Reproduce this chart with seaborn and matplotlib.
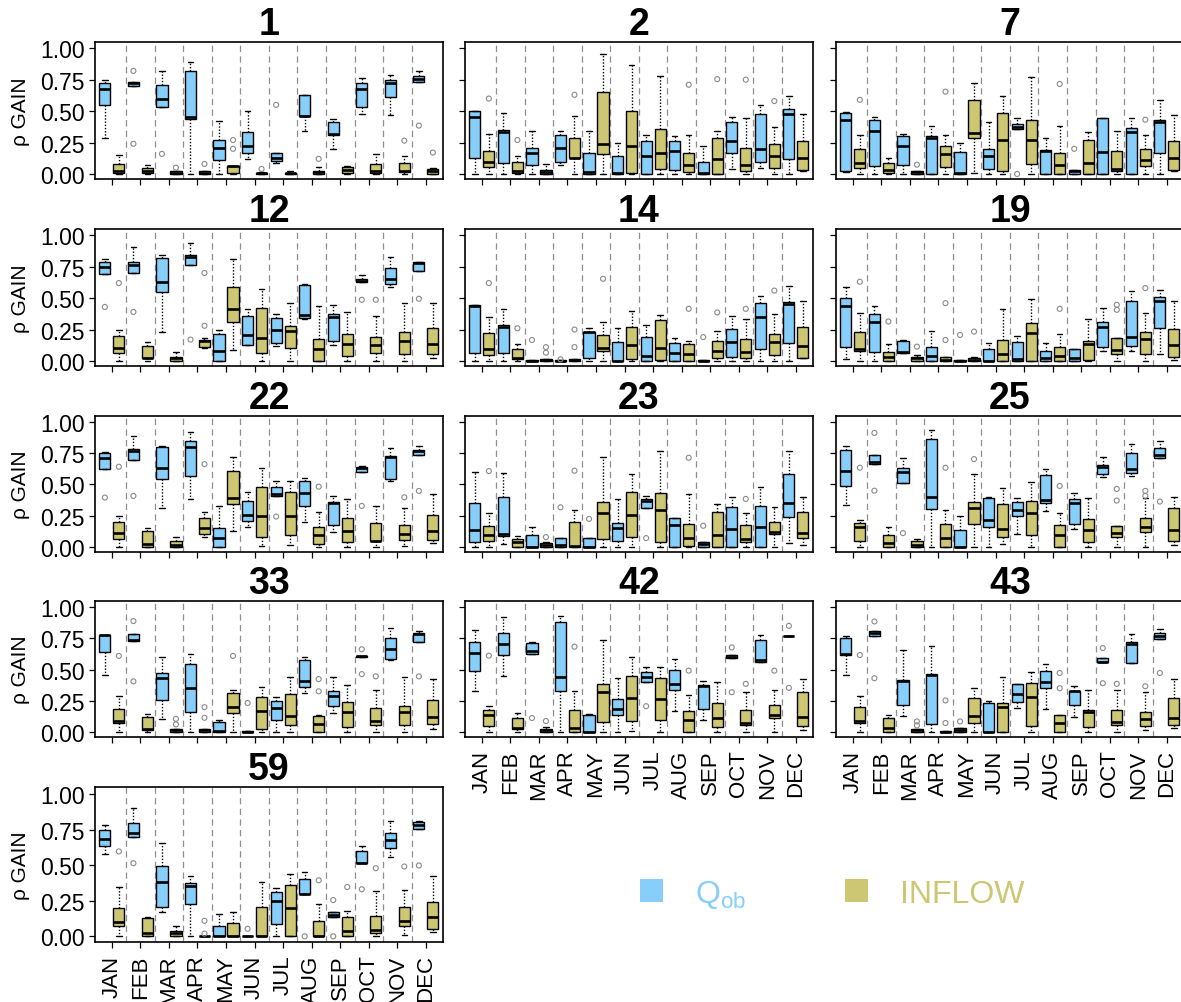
import numpy as np
import pandas as pd
import matplotlib
matplotlib.use("Agg")
import matplotlib.pyplot as plt
import seaborn as sns
from matplotlib.patches import Patch

MONTHS = ["JAN", "FEB", "MAR", "APR", "MAY", "JUN",
          "JUL", "AUG", "SEP", "OCT", "NOV", "DEC"]
SERIES = ["Qob", "INFLOW"]
LEGEND_LABELS = ["$\\mathregular{Q_{ob}}$", "INFLOW"]
Y_TICKS = [0.0, 0.25, 0.5, 0.75, 1.0]
Y_LABEL = "\u03c1 GAIN"

# five-number summaries per month: [whisker low, Q1, median, Q3, whisker high]
QOB_1 = [[0.29, 0.55, 0.68, 0.72, 0.75], [0.70, 0.70, 0.72, 0.73, 0.73], [0.535, 0.535, 0.60, 0.71, 0.82],
         [0.0, 0.44, 0.45, 0.82, 0.89], [0.0, 0.11, 0.21, 0.27, 0.42], [0.12, 0.17, 0.22, 0.33, 0.50],
         [0.09, 0.10, 0.125, 0.17, 0.17], [0.34, 0.46, 0.46, 0.63, 0.63], [0.20, 0.31, 0.32, 0.41, 0.44],
         [0.48, 0.53, 0.68, 0.72, 0.76], [0.47, 0.61, 0.72, 0.75, 0.79], [0.73, 0.73, 0.755, 0.78, 0.82]]
INF_1 = [[0.0, 0.005, 0.02, 0.08, 0.15], [0.0, 0.005, 0.027, 0.045, 0.07], [0.0, 0.0, 0.01, 0.02, 0.02],
         [0.0, 0.0, 0.01, 0.02, 0.02], [0.0, 0.008, 0.06, 0.066, 0.066], [0.0, 0.0, 0.005, 0.01, 0.012],
         [0.0, 0.0, 0.005, 0.01, 0.02], [0.0, 0.0, 0.013, 0.027, 0.055], [0.0, 0.008, 0.032, 0.053, 0.06],
         [0.0, 0.008, 0.02, 0.08, 0.16], [0.0, 0.013, 0.027, 0.085, 0.14], [0.0, 0.003, 0.02, 0.04, 0.045]]
QOB_OUT_1 = [("FEB", 0.82), ("FEB", 0.24), ("MAR", 0.16), ("JUL", 0.55), ("DEC", 0.385)]
INF_OUT_1 = [("MAR", 0.05), ("APR", 0.08), ("MAY", 0.27), ("MAY", 0.20), ("JUN", 0.04),
             ("AUG", 0.12), ("NOV", 0.265), ("DEC", 0.17)]

QOB_2 = [[0.0, 0.13, 0.45, 0.50, 0.50], [0.0, 0.085, 0.33, 0.35, 0.485], [0.0, 0.07, 0.17, 0.21, 0.34],
         [0.074, 0.093, 0.21, 0.31, 0.345], [0.0, 0.003, 0.013, 0.167, 0.34], [0.0, 0.0, 0.005, 0.146, 0.245],
         [0.0, 0.0, 0.146, 0.26, 0.31], [0.0, 0.03, 0.186, 0.265, 0.30], [0.0, 0.0, 0.005, 0.098, 0.225],
         [0.04, 0.17, 0.265, 0.416, 0.45], [0.048, 0.093, 0.195, 0.48, 0.545], [0.0, 0.12, 0.48, 0.52, 0.62]]
INF_2 = [[0.0, 0.053, 0.093, 0.185, 0.315], [0.0, 0.005, 0.027, 0.093, 0.14], [0.0, 0.0, 0.016, 0.03, 0.077],
         [0.0, 0.125, 0.127, 0.285, 0.46], [0.0, 0.16, 0.24, 0.65, 0.955], [0.0, 0.005, 0.22, 0.50, 0.87],
         [0.0, 0.04, 0.17, 0.36, 0.78], [0.0, 0.013, 0.072, 0.165, 0.31], [0.0, 0.0, 0.12, 0.284, 0.34],
         [0.0, 0.027, 0.074, 0.21, 0.445], [0.0, 0.048, 0.146, 0.24, 0.37], [0.02, 0.035, 0.127, 0.265, 0.48]]
QOB_OUT_2 = []
INF_OUT_2 = [("JAN", 0.60), ("FEB", 0.27), ("APR", 0.63), ("AUG", 0.71), ("SEP", 0.755),
             ("OCT", 0.75), ("NOV", 0.58)]

QOB_7 = [[0.013, 0.027, 0.43, 0.485, 0.49], [0.0, 0.066, 0.34, 0.43, 0.45], [0.0, 0.072, 0.22, 0.30, 0.32],
         [0.0, 0.0, 0.284, 0.305, 0.385], [0.0, 0.0, 0.005, 0.172, 0.25], [0.0, 0.04, 0.146, 0.20, 0.416],
         [0.358, 0.358, 0.377, 0.395, 0.443], [0.0, 0.0, 0.18, 0.194, 0.29], [0.0, 0.0, 0.027, 0.034, 0.034],
         [0.0, 0.0, 0.172, 0.446, 0.446], [0.0, 0.0, 0.33, 0.366, 0.446], [0.0, 0.167, 0.41, 0.43, 0.59]]
INF_7 = [[0.0, 0.048, 0.088, 0.20, 0.31], [0.0, 0.008, 0.032, 0.085, 0.13], [0.0, 0.003, 0.013, 0.027, 0.027],
         [0.0, 0.058, 0.156, 0.225, 0.31], [0.005, 0.284, 0.326, 0.59, 0.72], [0.0, 0.02, 0.27, 0.485, 0.62],
         [0.0, 0.077, 0.273, 0.43, 0.77], [0.0, 0.0, 0.072, 0.167, 0.385], [0.0, 0.0, 0.088, 0.27, 0.33],
         [0.0, 0.027, 0.04, 0.18, 0.345], [0.0, 0.06, 0.114, 0.20, 0.31], [0.024, 0.032, 0.127, 0.265, 0.47]]
QOB_OUT_7 = [("JUL", 0.0), ("SEP", 0.2)]
INF_OUT_7 = [("JAN", 0.59), ("MAR", 0.074), ("APR", 0.655), ("AUG", 0.716), ("NOV", 0.432)]

QOB_12 = [[0.69, 0.69, 0.75, 0.79, 0.81], [0.70, 0.70, 0.76, 0.79, 0.91], [0.23, 0.55, 0.63, 0.82, 0.84],
          [0.76, 0.76, 0.83, 0.84, 0.94], [0.0, 0.0, 0.08, 0.215, 0.25], [0.13, 0.13, 0.21, 0.355, 0.41],
          [0.12, 0.14, 0.25, 0.345, 0.37], [0.33, 0.34, 0.367, 0.605, 0.61], [0.128, 0.16, 0.35, 0.372, 0.447],
          [0.63, 0.63, 0.64, 0.65, 0.686], [0.59, 0.61, 0.654, 0.74, 0.824], [0.713, 0.713, 0.78, 0.787, 0.79]]
INF_12 = [[0.0, 0.06, 0.10, 0.20, 0.25], [0.0, 0.02, 0.02, 0.12, 0.15], [0.0, 0.0, 0.02, 0.035, 0.07],
          [0.10, 0.11, 0.155, 0.17, 0.18], [0.09, 0.31, 0.41, 0.59, 0.81], [0.0, 0.06, 0.18, 0.42, 0.57],
          [0.0, 0.10, 0.235, 0.28, 0.465], [0.0, 0.0, 0.093, 0.173, 0.435], [0.0, 0.043, 0.133, 0.215, 0.39],
          [0.0, 0.066, 0.128, 0.194, 0.354], [0.0, 0.053, 0.16, 0.229, 0.465], [0.027, 0.053, 0.133, 0.266, 0.46]]
QOB_OUT_12 = [("JAN", 0.43), ("FEB", 0.39), ("APR", 0.17), ("OCT", 0.487), ("DEC", 0.495)]
INF_OUT_12 = [("JAN", 0.62), ("APR", 0.70), ("APR", 0.28), ("OCT", 0.487)]

QOB_14 = [[0.0, 0.066, 0.44, 0.445, 0.445], [0.0, 0.06, 0.274, 0.29, 0.41], [0.0, 0.0, 0.003, 0.005, 0.005],
          [0.0, 0.0, 0.003, 0.005, 0.005], [0.0, 0.02, 0.23, 0.234, 0.266], [0.0, 0.0, 0.003, 0.154, 0.26],
          [0.0, 0.0, 0.043, 0.194, 0.287], [0.0, 0.0, 0.061, 0.146, 0.186], [0.0, 0.0, 0.003, 0.005, 0.005],
          [0.0, 0.03, 0.154, 0.255, 0.354], [0.0, 0.093, 0.346, 0.46, 0.52], [0.0, 0.141, 0.452, 0.473, 0.60]]
INF_14 = [[0.0, 0.048, 0.096, 0.22, 0.35], [0.0, 0.013, 0.02, 0.093, 0.133], [0.0, 0.003, 0.008, 0.016, 0.016],
          [0.0, 0.003, 0.008, 0.012, 0.012], [0.0, 0.082, 0.10, 0.207, 0.314], [0.0, 0.016, 0.128, 0.27, 0.40],
          [0.0, 0.008, 0.106, 0.327, 0.362], [0.0, 0.0, 0.053, 0.136, 0.162], [0.0, 0.027, 0.082, 0.162, 0.242],
          [0.0, 0.02, 0.07, 0.176, 0.332], [0.0, 0.048, 0.149, 0.213, 0.372], [0.027, 0.027, 0.122, 0.274, 0.48]]
QOB_OUT_14 = [("MAR", 0.167), ("APR", 0.013), ("SEP", 0.19)]
INF_OUT_14 = [("JAN", 0.62), ("FEB", 0.26), ("MAR", 0.11), ("MAR", 0.066), ("APR", 0.25), ("APR", 0.11),
              ("MAY", 0.654), ("AUG", 0.415), ("SEP", 0.386), ("OCT", 0.415), ("NOV", 0.56)]

QOB_19 = [[0.016, 0.11, 0.44, 0.50, 0.585], [0.0, 0.07, 0.31, 0.372, 0.44], [0.061, 0.061, 0.074, 0.162, 0.167],
          [0.0, 0.0, 0.043, 0.11, 0.242], [0.0, 0.0, 0.003, 0.005, 0.005], [0.0, 0.0, 0.003, 0.093, 0.141],
          [0.0, 0.003, 0.016, 0.154, 0.20], [0.0, 0.0, 0.02, 0.082, 0.141], [0.0, 0.0, 0.02, 0.093, 0.096],
          [0.08, 0.114, 0.274, 0.314, 0.425], [0.082, 0.12, 0.194, 0.48, 0.553], [0.053, 0.26, 0.48, 0.508, 0.566]]
INF_19 = [[0.0, 0.082, 0.096, 0.234, 0.38], [0.0, 0.0, 0.03, 0.074, 0.136], [0.0, 0.003, 0.02, 0.035, 0.048],
          [0.0, 0.003, 0.01, 0.03, 0.03], [0.0, 0.003, 0.01, 0.02, 0.035], [0.0, 0.0, 0.053, 0.167, 0.415],
          [0.0, 0.0, 0.226, 0.306, 0.495], [0.0, 0.0, 0.043, 0.11, 0.213], [0.0, 0.008, 0.136, 0.16, 0.332],
          [0.0, 0.053, 0.088, 0.18, 0.18], [0.0, 0.053, 0.173, 0.229, 0.38], [0.008, 0.03, 0.128, 0.253, 0.48]]
QOB_OUT_19 = [("MAY", 0.207)]
INF_OUT_19 = [("JAN", 0.63), ("FEB", 0.314), ("MAR", 0.114), ("APR", 0.46), ("APR", 0.167), ("MAY", 0.234),
              ("AUG", 0.415), ("OCT", 0.447), ("OCT", 0.407), ("NOV", 0.58)]

QOB_22 = [[0.622, 0.622, 0.713, 0.755, 0.76], [0.694, 0.694, 0.766, 0.782, 0.886], [0.314, 0.54, 0.633, 0.80, 0.806],
          [0.38, 0.569, 0.80, 0.846, 0.92], [0.0, 0.0, 0.069, 0.149, 0.327], [0.154, 0.21, 0.255, 0.367, 0.441],
          [0.41, 0.41, 0.423, 0.481, 0.529], [0.202, 0.33, 0.428, 0.529, 0.553], [0.114, 0.176, 0.354, 0.356, 0.407],
          [0.596, 0.596, 0.633, 0.641, 0.649], [0.527, 0.54, 0.72, 0.726, 0.793], [0.739, 0.739, 0.766, 0.779, 0.806]]
INF_22 = [[0.0, 0.061, 0.109, 0.202, 0.247], [0.0, 0.0, 0.024, 0.122, 0.149], [0.0, 0.0, 0.016, 0.048, 0.074],
          [0.077, 0.104, 0.149, 0.234, 0.277], [0.128, 0.343, 0.388, 0.609, 0.72], [0.008, 0.077, 0.25, 0.476, 0.628],
          [0.016, 0.096, 0.247, 0.441, 0.529], [0.0, 0.021, 0.09, 0.157, 0.282], [0.0, 0.035, 0.122, 0.234, 0.38],
          [0.0, 0.043, 0.048, 0.189, 0.327], [0.008, 0.05, 0.104, 0.176, 0.309], [0.029, 0.056, 0.128, 0.255, 0.42]]
QOB_OUT_22 = [("JAN", 0.394), ("FEB", 0.407), ("JUL", 0.242), ("OCT", 0.327), ("DEC", 0.447)]
INF_OUT_22 = [("JAN", 0.641), ("APR", 0.662), ("AUG", 0.481), ("NOV", 0.396)]

QOB_23 = [[0.0, 0.037, 0.136, 0.354, 0.596], [0.024, 0.088, 0.101, 0.402, 0.593], [0.0, 0.0, 0.0, 0.096, 0.157],
          [0.0, 0.0, 0.016, 0.069, 0.069], [0.0, 0.0, 0.0, 0.069, 0.069], [0.0, 0.043, 0.149, 0.189, 0.38],
          [0.314, 0.314, 0.367, 0.383, 0.41], [0.0, 0.0, 0.176, 0.229, 0.229], [0.0, 0.0, 0.021, 0.037, 0.037],
          [0.0, 0.0, 0.141, 0.316, 0.402], [0.0, 0.0, 0.157, 0.33, 0.481], [0.027, 0.242, 0.348, 0.582, 0.766]]
INF_23 = [[0.0, 0.048, 0.09, 0.162, 0.274], [0.0, 0.0, 0.035, 0.061, 0.082], [0.0, 0.0, 0.016, 0.029, 0.037],
          [0.0, 0.0, 0.003, 0.197, 0.295], [0.0, 0.064, 0.269, 0.356, 0.72], [0.0, 0.077, 0.255, 0.436, 0.58],
          [0.0, 0.037, 0.295, 0.428, 0.769], [0.0, 0.003, 0.069, 0.184, 0.42], [0.0, 0.0, 0.09, 0.277, 0.34],
          [0.0, 0.035, 0.061, 0.173, 0.269], [0.0, 0.101, 0.114, 0.202, 0.316], [0.011, 0.069, 0.109, 0.282, 0.396]]
QOB_OUT_23 = [("APR", 0.316), ("MAY", 0.223), ("JUL", 0.069), ("SEP", 0.168)]
INF_OUT_23 = [("JAN", 0.606), ("MAR", 0.077), ("APR", 0.609), ("AUG", 0.713), ("OCT", 0.383)]

QOB_25 = [[0.335, 0.489, 0.609, 0.779, 0.806], [0.662, 0.662, 0.681, 0.734, 0.734], [0.508, 0.508, 0.601, 0.633, 0.707],
          [0.0, 0.301, 0.396, 0.867, 0.939], [0.0, 0.0, 0.0, 0.136, 0.25], [0.0, 0.157, 0.215, 0.388, 0.402],
          [0.104, 0.247, 0.295, 0.356, 0.388], [0.29, 0.348, 0.375, 0.574, 0.62], [0.144, 0.184, 0.348, 0.383, 0.434],
          [0.556, 0.582, 0.641, 0.654, 0.715], [0.566, 0.588, 0.62, 0.755, 0.827], [0.707, 0.707, 0.734, 0.795, 0.848]]
INF_25 = [[0.0, 0.043, 0.157, 0.194, 0.215], [0.0, 0.0, 0.029, 0.096, 0.157], [0.0, 0.0, 0.016, 0.043, 0.061],
          [0.0, 0.0, 0.069, 0.184, 0.295], [0.0, 0.184, 0.314, 0.356, 0.58], [0.021, 0.077, 0.141, 0.34, 0.473],
          [0.0, 0.09, 0.274, 0.37, 0.521], [0.0, 0.0, 0.09, 0.176, 0.269], [0.0, 0.037, 0.13, 0.221, 0.394],
          [0.0, 0.077, 0.109, 0.162, 0.162], [0.0, 0.117, 0.157, 0.234, 0.388], [0.011, 0.043, 0.13, 0.309, 0.402]]
QOB_OUT_25 = [("FEB", 0.912), ("FEB", 0.449), ("MAR", 0.109), ("DEC", 0.362)]
INF_OUT_25 = [("JAN", 0.633), ("APR", 0.633), ("MAY", 0.702), ("AUG", 0.487), ("OCT", 0.463), ("OCT", 0.37),
              ("NOV", 0.447), ("NOV", 0.407)]

QOB_33 = [[0.456, 0.645, 0.775, 0.777, 0.78], [0.73, 0.73, 0.735, 0.788, 0.788], [0.106, 0.257, 0.43, 0.472, 0.602],
          [0.0, 0.159, 0.353, 0.544, 0.623], [0.0, 0.0, 0.005, 0.08, 0.10], [0.0, 0.0, 0.003, 0.005, 0.005],
          [0.0, 0.10, 0.191, 0.252, 0.284], [0.313, 0.363, 0.406, 0.576, 0.605], [0.154, 0.207, 0.286, 0.326, 0.443],
          [0.602, 0.602, 0.607, 0.61, 0.61], [0.576, 0.589, 0.663, 0.751, 0.836], [0.724, 0.724, 0.782, 0.796, 0.809]]
INF_33 = [[0.0, 0.072, 0.088, 0.186, 0.292], [0.0, 0.013, 0.027, 0.119, 0.146], [0.0, 0.0, 0.013, 0.027, 0.027],
          [0.0, 0.0, 0.013, 0.021, 0.021], [0.0, 0.151, 0.199, 0.313, 0.34], [0.0, 0.027, 0.172, 0.284, 0.363],
          [0.0, 0.053, 0.127, 0.305, 0.443], [0.0, 0.0, 0.061, 0.127, 0.133], [0.0, 0.04, 0.164, 0.239, 0.379],
          [0.0, 0.053, 0.085, 0.191, 0.337], [0.0, 0.053, 0.159, 0.207, 0.438], [0.027, 0.066, 0.119, 0.26, 0.424]]
QOB_OUT_33 = [("FEB", 0.889), ("FEB", 0.406), ("JUN", 0.233), ("OCT", 0.663), ("OCT", 0.464), ("DEC", 0.446)]
INF_OUT_33 = [("JAN", 0.61), ("MAR", 0.106), ("MAR", 0.061), ("APR", 0.199), ("APR", 0.114), ("MAY", 0.61),
              ("AUG", 0.424), ("AUG", 0.326), ("OCT", 0.446)]

QOB_42 = [[0.327, 0.492, 0.63, 0.718, 0.816], [0.447, 0.62, 0.705, 0.79, 0.923], [0.625, 0.625, 0.646, 0.71, 0.723],
          [0.0, 0.332, 0.439, 0.878, 0.931], [0.0, 0.0, 0.0, 0.133, 0.146], [0.0, 0.133, 0.186, 0.261, 0.431],
          [0.399, 0.399, 0.439, 0.484, 0.524], [0.168, 0.34, 0.386, 0.50, 0.585], [0.098, 0.186, 0.372, 0.378, 0.412],
          [0.593, 0.593, 0.598, 0.617, 0.617], [0.564, 0.564, 0.58, 0.739, 0.779], [0.771, 0.771, 0.771, 0.771, 0.771]]
INF_42 = [[0.0, 0.045, 0.138, 0.178, 0.205], [0.0, 0.021, 0.035, 0.112, 0.152], [0.0, 0.003, 0.013, 0.027, 0.04],
          [0.0, 0.0, 0.035, 0.173, 0.327], [0.0, 0.08, 0.319, 0.386, 0.739], [0.005, 0.088, 0.271, 0.452, 0.604],
          [0.0, 0.098, 0.261, 0.431, 0.524], [0.0, 0.0, 0.093, 0.168, 0.298], [0.0, 0.04, 0.112, 0.231, 0.399],
          [0.0, 0.053, 0.074, 0.173, 0.324], [0.0, 0.112, 0.133, 0.213, 0.34], [0.019, 0.048, 0.12, 0.319, 0.426]]
QOB_OUT_42 = [("MAR", 0.112), ("JUL", 0.207), ("OCT", 0.678), ("OCT", 0.319), ("DEC", 0.851), ("DEC", 0.354)]
INF_OUT_42 = [("JAN", 0.612), ("MAR", 0.088), ("APR", 0.684), ("AUG", 0.492), ("OCT", 0.386), ("NOV", 0.492)]

QOB_43 = [[0.457, 0.62, 0.625, 0.75, 0.771], [0.766, 0.766, 0.793, 0.806, 0.806], [0.128, 0.218, 0.407, 0.42, 0.657],
          [0.0, 0.061, 0.46, 0.465, 0.686], [0.0, 0.0, 0.013, 0.032, 0.032], [0.0, 0.0, 0.0, 0.231, 0.245],
          [0.191, 0.239, 0.306, 0.386, 0.386], [0.181, 0.354, 0.399, 0.492, 0.545], [0.12, 0.213, 0.332, 0.332, 0.372],
          [0.559, 0.559, 0.564, 0.59, 0.59], [0.551, 0.551, 0.705, 0.718, 0.785], [0.745, 0.745, 0.771, 0.793, 0.824]]
INF_43 = [[0.0, 0.072, 0.088, 0.199, 0.287], [0.0, 0.0, 0.035, 0.112, 0.133], [0.0, 0.0, 0.013, 0.021, 0.021],
          [0.0, 0.0, 0.003, 0.005, 0.005], [0.0, 0.072, 0.125, 0.271, 0.351], [0.0, 0.0, 0.199, 0.231, 0.439],
          [0.0, 0.045, 0.279, 0.394, 0.479], [0.0, 0.0, 0.072, 0.133, 0.133], [0.0, 0.04, 0.16, 0.173, 0.34],
          [0.0, 0.053, 0.08, 0.178, 0.34], [0.013, 0.048, 0.106, 0.16, 0.324], [0.032, 0.053, 0.114, 0.271, 0.426]]
QOB_OUT_43 = [("FEB", 0.886), ("FEB", 0.431), ("MAY", 0.085), ("OCT", 0.673), ("OCT", 0.391), ("DEC", 0.473)]
INF_OUT_43 = [("JAN", 0.617), ("MAR", 0.085), ("MAR", 0.053), ("APR", 0.253), ("APR", 0.072),
              ("AUG", 0.473), ("AUG", 0.351), ("OCT", 0.386), ("NOV", 0.367)]

QOB_59 = [[0.579, 0.637, 0.683, 0.748, 0.782], [0.701, 0.701, 0.729, 0.799, 0.903], [0.174, 0.204, 0.382, 0.491, 0.653],
          [0.0, 0.225, 0.354, 0.375, 0.421], [0.0, 0.0, 0.0, 0.076, 0.157], [0.0, 0.0, 0.0, 0.003, 0.003],
          [0.0, 0.086, 0.248, 0.313, 0.34], [0.296, 0.296, 0.301, 0.405, 0.451], [0.139, 0.139, 0.15, 0.169, 0.169],
          [0.514, 0.514, 0.514, 0.602, 0.637], [0.556, 0.618, 0.678, 0.729, 0.81], [0.752, 0.752, 0.78, 0.806, 0.81]]
INF_59 = [[0.0, 0.076, 0.104, 0.201, 0.347], [0.0, 0.0, 0.023, 0.132, 0.139], [0.0, 0.0, 0.023, 0.035, 0.074],
          [0.0, 0.0, 0.0, 0.003, 0.003], [0.0, 0.0, 0.0, 0.097, 0.169], [0.0, 0.0, 0.0, 0.208, 0.382],
          [0.0, 0.0, 0.197, 0.359, 0.435], [0.0, 0.0, 0.0, 0.109, 0.227], [0.0, 0.0, 0.035, 0.134, 0.178],
          [0.0, 0.023, 0.046, 0.146, 0.319], [0.007, 0.076, 0.109, 0.208, 0.324], [0.03, 0.051, 0.139, 0.238, 0.421]]
QOB_OUT_59 = [("FEB", 0.514), ("JUN", 0.053), ("AUG", 0.0), ("SEP", 0.255), ("SEP", 0.0), ("OCT", 0.331),
              ("DEC", 0.498)]
INF_OUT_59 = [("JAN", 0.597), ("APR", 0.109), ("APR", 0.019), ("AUG", 0.394), ("SEP", 0.347),
              ("OCT", 0.479), ("NOV", 0.491)]

PANELS = {
    "1": (QOB_1, INF_1, QOB_OUT_1, INF_OUT_1),
    "2": (QOB_2, INF_2, QOB_OUT_2, INF_OUT_2),
    "7": (QOB_7, INF_7, QOB_OUT_7, INF_OUT_7),
    "12": (QOB_12, INF_12, QOB_OUT_12, INF_OUT_12),
    "14": (QOB_14, INF_14, QOB_OUT_14, INF_OUT_14),
    "19": (QOB_19, INF_19, QOB_OUT_19, INF_OUT_19),
    "22": (QOB_22, INF_22, QOB_OUT_22, INF_OUT_22),
    "23": (QOB_23, INF_23, QOB_OUT_23, INF_OUT_23),
    "25": (QOB_25, INF_25, QOB_OUT_25, INF_OUT_25),
    "33": (QOB_33, INF_33, QOB_OUT_33, INF_OUT_33),
    "42": (QOB_42, INF_42, QOB_OUT_42, INF_OUT_42),
    "43": (QOB_43, INF_43, QOB_OUT_43, INF_OUT_43),
    "59": (QOB_59, INF_59, QOB_OUT_59, INF_OUT_59),
}
GRID = [["1", "2", "7"], ["12", "14", "19"], ["22", "23", "25"], ["33", "42", "43"], ["59", None, None]]
BOTTOM_PANELS = {"59", "42", "43"}

# ---- style ----
COLORS = {"Qob": "#87CEFA", "INFLOW": "#CDC673"}
BOX_W = 0.98
OFFSETS = {"Qob": -BOX_W / 4, "INFLOW": BOX_W / 4}

sns.set_style("ticks")
plt.rcParams["font.family"] = ["Liberation Sans", "DejaVu Sans"]
plt.rcParams["axes.linewidth"] = 1.2
for key in ["text.color", "axes.labelcolor", "xtick.color", "ytick.color",
            "xtick.labelcolor", "ytick.labelcolor", "axes.edgecolor"]:
    plt.rcParams[key] = "black"

W, H = 1181, 1003
fig = plt.figure(figsize=(W / 100, H / 100), dpi=100)

col_left = [95, 465, 836]
col_width = 348
row_top = [43, 230, 416.7, 602, 788]
row_bot = [180, 367, 552.7, 738, 943]


def draw_panel(ax, name):
    qob, inf, qout, iout = PANELS[name]
    rows = []
    for series, stats in (("Qob", qob), ("INFLOW", inf)):
        for m, five in zip(MONTHS, stats):
            for v in five:
                rows.append({"pos": MONTHS.index(m), "series": series, "value": v})
    df = pd.DataFrame(rows)
    for i in range(len(MONTHS) - 1):
        ax.axvline(i + 0.5, color="#8f8f8f", linestyle=(0, (5, 3.5)), linewidth=0.9, zorder=0)
    sns.boxplot(data=df, x="pos", y="value", hue="series", hue_order=SERIES,
                palette=COLORS, native_scale=True, orient="x", width=BOX_W, gap=0.2,
                whis=(0, 100), showfliers=False, saturation=1, linecolor="black",
                linewidth=1.0, medianprops={"linewidth": 1.9, "color": "black"},
                whiskerprops={"linestyle": (0, (1, 1.3))}, legend=False, ax=ax)
    out = []
    for series, lst in (("Qob", qout), ("INFLOW", iout)):
        for m, v in lst:
            out.append({"xpos": MONTHS.index(m) + OFFSETS[series], "value": v})
    if out:
        odf = pd.DataFrame(out)
        sns.scatterplot(data=odf, x="xpos", y="value", marker="o", s=13,
                        facecolor="none", edgecolor="#8a8a8a", linewidth=0.8,
                        zorder=5, legend=False, ax=ax)
    ax.set_xlim(-0.59, 11.6)
    ax.set_ylim(-0.04, 1.05)
    ax.set_xticks(range(len(MONTHS)))
    ax.set_yticks(Y_TICKS)
    ax.set_xlabel("")
    ax.set_ylabel("")
    ax.set_title(name, fontsize=27, fontweight="bold", pad=1)
    ax.tick_params(axis="both", direction="out", length=4, width=0.9, color="black")
    for sp in ax.spines.values():
        sp.set_visible(True)
        sp.set_color("black")
        sp.set_linewidth(1.2)


for r, row in enumerate(GRID):
    for c, name in enumerate(row):
        if name is None:
            continue
        left = col_left[c] / W
        bottom = 1 - row_bot[r] / H
        height = (row_bot[r] - row_top[r]) / H
        ax = fig.add_axes([left, bottom, col_width / W, height])
        draw_panel(ax, name)
        if c == 0:
            ax.set_yticklabels([f"{t:.2f}" for t in Y_TICKS], fontsize=16.5)
            ax.set_ylabel(Y_LABEL, fontsize=15, labelpad=7)
        else:
            ax.tick_params(axis="y", labelleft=False)
        if name in BOTTOM_PANELS:
            ax.set_xticklabels(MONTHS, rotation=90, fontsize=16)
            ax.tick_params(axis="x", pad=5)
        else:
            ax.tick_params(axis="x", labelbottom=False)

handles = [Patch(facecolor=COLORS[s], edgecolor="none") for s in SERIES]
fig.legend(handles=handles, labels=LEGEND_LABELS, loc="center",
           bbox_to_anchor=(0.705, 0.108), ncol=2, frameon=False, fontsize=23,
           handlelength=0.72, handleheight=0.72, handletextpad=1.0,
           columnspacing=3.1, labelcolor=[COLORS[s] for s in SERIES])

fig.savefig("out.png", dpi=100)
